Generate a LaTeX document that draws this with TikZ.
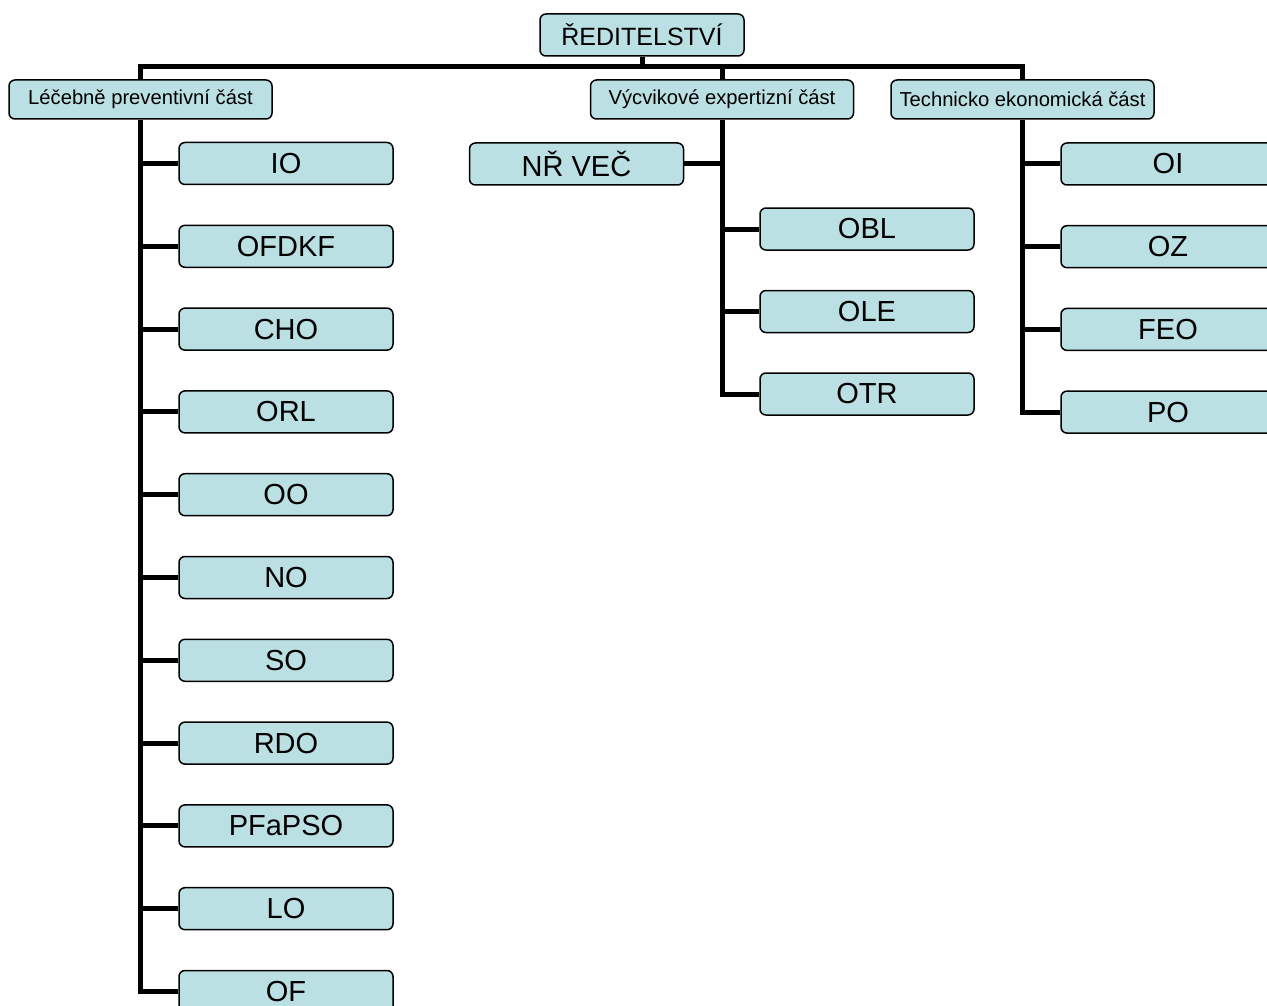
\documentclass[tikz,border=0pt]{standalone}
\usepackage{fontspec}
\setmainfont{Liberation Sans}
\usetikzlibrary{positioning}
\definecolor{boxfill}{RGB}{187,224,227}
\tikzset{
  unit/.style={rectangle, rounded corners=6pt, draw=black, line width=1.5pt, fill=boxfill,
               minimum width=214pt, minimum height=42pt, inner sep=0pt,
               font=\fontsize{29}{34}\selectfont},
  part/.style={unit, minimum width=263pt, minimum height=39pt, font=\fontsize{20.2}{24}\selectfont},
  head/.style={unit, minimum width=204pt, font=\fontsize{25}{30}\selectfont},
  link/.style={line width=5pt},
}

\begin{document}
\begin{tikzpicture}[x=1pt, y=-1pt, node distance=39.3pt]
  \clip (0,0) rectangle (1267,1006);

  % ----- Directorate -----
  \node[head] (dir) at (642,35) {ŘEDITELSTVÍ};
  \coordinate (bus) at (0,67);

  % ----- Three parts -----
  \node[part] (lp) at (140.5,99.5) {Léčebně preventivní část};
  \node[part] (vp) at (722,99.5) {Výcvikové expertizní část};
  \node[part] (tp) at (1022.5,99.5) {Technicko ekonomická část};

  % ----- Left column -----
  \node[unit] (io) at (286,163.5) {IO};
  \node[unit, below=of io] (ofdkf) {OFDKF};
  \node[unit, below=of ofdkf] (cho) {CHO};
  \node[unit, below=of cho] (orl) {ORL};
  \node[unit, below=of orl] (oo) {OO};
  \node[unit, below=of oo] (no) {NO};
  \node[unit, below=of no] (so) {SO};
  \node[unit, below=of so] (rdo) {RDO};
  \node[unit, below=of rdo] (pfapso) {PFaPSO};
  \node[unit, below=of pfapso] (lo) {LO};
  \node[unit, below=of lo] (of) {OF};

  % ----- Middle column -----
  \node[unit] (nrvec) at (576.5,164) {NŘ VEČ};
  \node[unit] (obl) at (867,229) {OBL};
  \node[unit, below=39pt of obl] (ole) {OLE};
  \node[unit, below=39pt of ole] (otr) {OTR};

  % ----- Right column -----
  \node[unit] (oi) at (1168,164) {OI};
  \node[unit, below=39.2pt of oi] (oz) {OZ};
  \node[unit, below=39.2pt of oz] (feo) {FEO};
  \node[unit, below=39.2pt of feo] (po) {PO};

  % ----- Connectors -----
  \draw[link] (dir.south) -- (dir.south |- bus);
  \draw[link] (lp.north) -- (lp.north |- bus) -| (tp.north);
  \draw[link] (vp.north) -- (vp.north |- bus);

  \draw[link] (lp.south) -- (lp.south |- of.west) -- (of.west);
  \foreach \n in {io,ofdkf,cho,orl,oo,no,so,rdo,pfapso,lo}
    \draw[link] (lp.south |- \n.west) -- (\n.west);

  \draw[link] (vp.south) -- (vp.south |- otr.west) -- (otr.west);
  \draw[link] (vp.south |- nrvec.east) -- (nrvec.east);
  \foreach \n in {obl,ole}
    \draw[link] (vp.south |- \n.west) -- (\n.west);

  \draw[link] (tp.south) -- (tp.south |- po.west) -- (po.west);
  \foreach \n in {oi,oz,feo}
    \draw[link] (tp.south |- \n.west) -- (\n.west);
\end{tikzpicture}
\end{document}
